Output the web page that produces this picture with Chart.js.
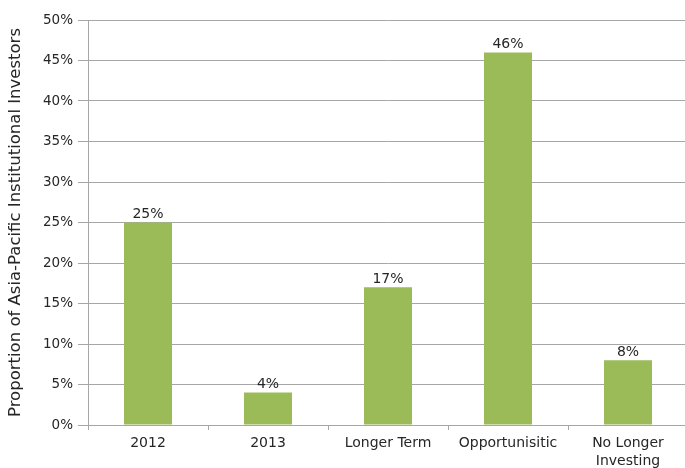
<!DOCTYPE html>
<html>
<head>
<meta charset="utf-8">
<script src="https://cdn.jsdelivr.net/npm/chart.js@4"></script>
<style>
  html, body { margin: 0; padding: 0; background: #fff; overflow: hidden; }
  #wrap { position: relative; width: 690px; height: 468px; }
</style>
</head>
<body>
<div id="wrap"><canvas id="chart"></canvas></div>
<script>
    // categories and shares (percent)
    const categories = ['2012', '2013', 'Longer Term', 'Opportunisitic', ['No Longer', 'Investing']];
    const shares = [25, 4, 17, 46, 8];
    const yTicks = [0, 5, 10, 15, 20, 25, 30, 35, 40, 45, 50];

    const textColor = '#262626';
    const fontFamily = "'DejaVu Sans', 'Liberation Sans', sans-serif";

    // value labels above each bar
    const barLabels = {
        id: 'barLabels',
        afterDatasetsDraw(chart) {
            const ctx = chart.ctx;
            const meta = chart.getDatasetMeta(0);
            ctx.save();
            ctx.fillStyle = textColor;
            ctx.font = '14px ' + fontFamily;
            ctx.textAlign = 'center';
            ctx.textBaseline = 'bottom';
            meta.data.forEach((bar, i) => {
                ctx.fillText(shares[i] + '%', bar.x, bar.y - 1);
            });
            ctx.restore();
        }
    };

    new Chart(document.getElementById('chart'), {
        type: 'bar',
        data: {
            labels: categories,
            datasets: [{
                data: shares,
                backgroundColor: '#9bbb59',
                borderWidth: 0,
                categoryPercentage: 1,
                barPercentage: 0.4
            }]
        },
        plugins: [barLabels],
        options: {
            responsive: true,
            maintainAspectRatio: false,
            animation: false,
            layout: { padding: { top: 20, right: 2, left: 0, bottom: 0 } },
            plugins: {
                legend: { display: false },
                tooltip: { enabled: false }
            },
            scales: {
                x: {
                    offset: true,
                    afterFit(scale) { scale.height = 43; },
                    grid: {
                        offset: true,
                        drawOnChartArea: false,
                        drawTicks: true,
                        tickLength: 5,
                        color: '#a6a6a6'
                    },
                    border: { color: '#a6a6a6' },
                    ticks: {
                        color: textColor,
                        font: { size: 14, family: fontFamily, lineHeight: 1.3 },
                        padding: 4,
                        maxRotation: 0
                    }
                },
                y: {
                    min: 0,
                    max: 50,
                    afterFit(scale) { scale.width = 88; },
                    afterBuildTicks(scale) {
                        scale.ticks = yTicks.map(v => ({ value: v }));
                    },
                    grid: {
                        color: '#a6a6a6',
                        tickLength: 10
                    },
                    border: { color: '#a6a6a6' },
                    ticks: {
                        color: textColor,
                        font: { size: 13.5, family: fontFamily },
                        padding: 5,
                        callback: v => v + '%'
                    },
                    title: {
                        display: true,
                        text: 'Proportion of Asia-Pacific Institutional Investors',
                        color: textColor,
                        font: { size: 16.5, family: fontFamily },
                        padding: { top: 6, bottom: 2 }
                    }
                }
            }
        }
    });
</script>
</body>
</html>
